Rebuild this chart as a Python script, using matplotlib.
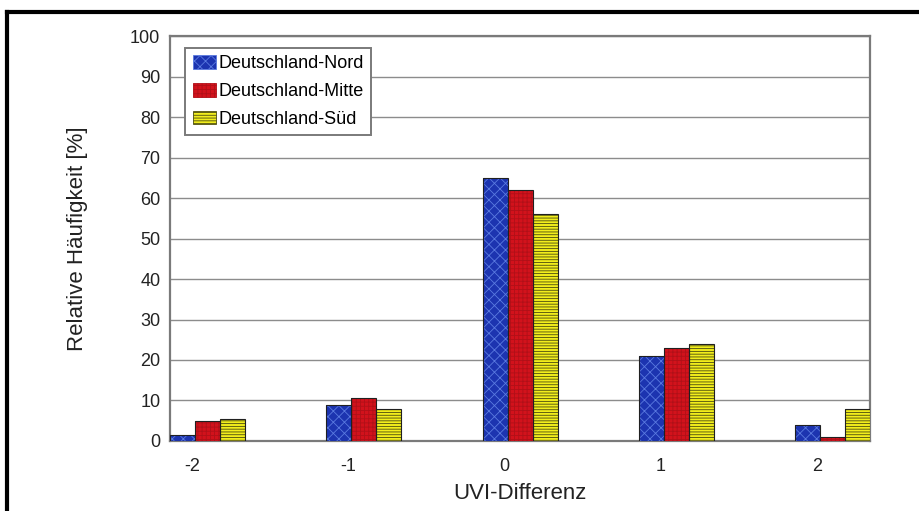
import matplotlib
matplotlib.use('Agg')
import matplotlib.pyplot as plt
from matplotlib.patches import Patch
from matplotlib.lines import Line2D
import numpy as np

plt.rcParams['font.family'] = ['Liberation Sans', 'DejaVu Sans']
plt.rcParams['hatch.linewidth'] = 0.6

categories = ['-2', '-1', '0', '1', '2']
series_names = ['Deutschland-Nord', 'Deutschland-Mitte', 'Deutschland-Süd']
nord = [1.5, 9, 65, 21, 4]
mitte = [5, 10.5, 62, 23, 1]
sued = [5.5, 8, 56, 24, 8]

fill_colors = ['#1c34b0', '#d2121c', '#f2ee1c']
hatch_colors = ['#5a7ae0', '#b01018', '#4a4a10']
hatches = ['xxx', '++++', '------']

fig = plt.figure(figsize=(9.19, 5.11), dpi=100)
ax = fig.add_axes([0.185, 0.137, 0.762, 0.7925])

x = np.arange(len(categories))
w = 0.16
handles = []
for i, vals in enumerate([nord, mitte, sued]):
    pos = x + (i - 1) * w
    # hatch drawn in its own colour, black outline on top
    ax.bar(pos, vals, w, color=fill_colors[i], edgecolor=hatch_colors[i],
           hatch=hatches[i], linewidth=0, zorder=3)
    ax.bar(pos, vals, w, fill=False, edgecolor='#202020', linewidth=0.8, zorder=4)
    handles.append(Patch(facecolor=fill_colors[i], edgecolor=hatch_colors[i],
                         hatch=hatches[i], linewidth=0.6))

ax.set_xlim(-0.24, len(categories) - 1 + 0.24)
ax.set_ylim(0, 100)
ax.set_yticks(np.arange(0, 101, 10))
ax.set_xticks(x - 0.1)
ax.set_xticklabels(categories)
ax.tick_params(length=0, labelsize=13, colors='#222222')
ax.tick_params(axis='x', pad=12)
ax.tick_params(axis='y', pad=7)
ax.yaxis.grid(True, color='#8c8c8c', linewidth=1.0, zorder=0)
ax.set_axisbelow(True)
for s in ax.spines.values():
    s.set_color('#7a7a7a')
    s.set_linewidth(1.6)

ax.set_ylabel('Relative Häufigkeit [%]', fontsize=16, color='#222222', labelpad=30)
ax.set_xlabel('UVI-Differenz', fontsize=16, color='#222222', labelpad=6)

leg = ax.legend(handles, series_names, loc='upper left', bbox_to_anchor=(0.022, 0.97),
                borderaxespad=0, fontsize=13, fancybox=False, framealpha=1,
                edgecolor='#7a7a7a', handlelength=1.3, handleheight=0.75,
                handletextpad=0.15, labelspacing=0.6, borderpad=0.4)
leg.get_frame().set_linewidth(1.4)
leg.set_zorder(6)

# black frame around the picture (left and top edge visible)
fig.add_artist(Line2D([7 / 919, 7 / 919], [0, 1 - 12 / 511], color='black',
                      linewidth=3, transform=fig.transFigure))
fig.add_artist(Line2D([7 / 919, 1], [1 - 12 / 511, 1 - 12 / 511], color='black',
                      linewidth=3, transform=fig.transFigure))

fig.savefig('out.png', dpi=100)
